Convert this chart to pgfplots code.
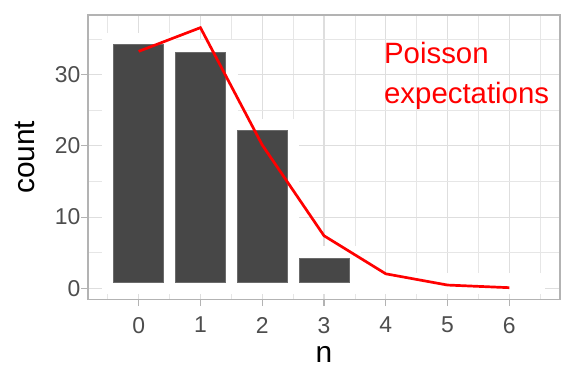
\documentclass[border=0pt]{standalone}
\usepackage{fontspec}
\setmainfont{Liberation Sans}
\usepackage{pgfplots}
\pgfplotsset{compat=1.18}
\definecolor{barcol}{HTML}{474747}
\definecolor{baredge}{HTML}{6B6B6B}
\definecolor{gridmaj}{HTML}{DEDEDE}
\definecolor{gridmin}{HTML}{E6E6E6}
\definecolor{bordercol}{HTML}{B3B3B3}
\definecolor{ticktext}{HTML}{4D4D4D}
\begin{document}
\begin{tikzpicture}
\useasboundingbox (-88bp,-84.5bp) rectangle (488bp,299.5bp);
\begin{axis}[
  at={(0,0)}, anchor=south west,
  scale only axis, width=472bp, height=284.5bp,
  xmin=-0.82, xmax=6.82, ymin=-1.58, ymax=38.4,
  xtick={0,1,2,3,4,5,6}, ytick={0,10,20,30},
  minor xtick={-0.5,0.5,1.5,2.5,3.5,4.5,5.5,6.5},
  minor ytick={5,15,25,35},
  grid=both,
  major grid style={draw=gridmaj, line width=1.1bp},
  minor grid style={draw=gridmin, line width=0.55bp},
  axis line style={draw=bordercol, line width=1.1bp},
  tick align=outside, tick pos=left,
  major tick length=6.5bp, minor tick length=0pt,
  every tick/.style={draw=bordercol, line width=1.1bp},
  tick label style={font=\fontsize{23}{27}\selectfont, text=ticktext, inner sep=0pt},
  xticklabel style={yshift=-11bp},
  yticklabel style={xshift=-1bp},
  /pgf/number format/assume math mode=true,
  xlabel={n}, ylabel={count},
  label style={font=\fontsize{30}{34}\selectfont},
  xlabel style={at={(axis description cs:0.5,-0.223)}, anchor=base},
  ylabel style={at={(axis description cs:-0.1123,0.5)}, anchor=base},
]
% white halos
\addplot[fill=white, draw=none] coordinates {(-0.6,-0.85) (-0.6,35.94) (0.6,35.94) (0.6,-0.85)} -- cycle;
\addplot[fill=white, draw=none] coordinates {(0.4,-0.85) (0.4,34.89) (1.6,34.89) (1.6,-0.85)} -- cycle;
\addplot[fill=white, draw=none] coordinates {(1.4,-0.85) (1.4,23.84) (2.6,23.84) (2.6,-0.85)} -- cycle;
\addplot[fill=white, draw=none] coordinates {(2.4,-0.85) (2.4,5.89) (3.6,5.89) (3.6,-0.85)} -- cycle;
\addplot[fill=white, draw=none] coordinates {(3.4,-0.85) (3.4,2.2) (6.57,2.2) (6.57,-0.85)} -- cycle;
% bars
\addplot[fill=barcol, draw=baredge, line width=0.4bp] coordinates {(-0.405,0.85) (-0.405,34.25) (0.405,34.25) (0.405,0.85)} -- cycle;
\addplot[fill=barcol, draw=baredge, line width=0.4bp] coordinates {(0.595,0.85) (0.595,33.2) (1.405,33.2) (1.405,0.85)} -- cycle;
\addplot[fill=barcol, draw=baredge, line width=0.4bp] coordinates {(1.595,0.85) (1.595,22.15) (2.405,22.15) (2.405,0.85)} -- cycle;
\addplot[fill=barcol, draw=baredge, line width=0.4bp] coordinates {(2.595,0.85) (2.595,4.2) (3.405,4.2) (3.405,0.85)} -- cycle;
% Poisson expectations
\addplot[red, line width=2.7bp] coordinates {(0,33.29) (1,36.62) (2,20.14) (3,7.38) (4,2.03) (5,0.45) (6,0.08)};
\node[anchor=base west, inner sep=0pt, text=red, font=\fontsize{29.5}{33}\selectfont] at (axis cs:3.97,31.55) {Poisson};
\node[anchor=base west, inner sep=0pt, text=red, font=\fontsize{29.5}{33}\selectfont] at (axis cs:3.97,26.02) {expectations};
\end{axis}
\end{tikzpicture}
\end{document}
